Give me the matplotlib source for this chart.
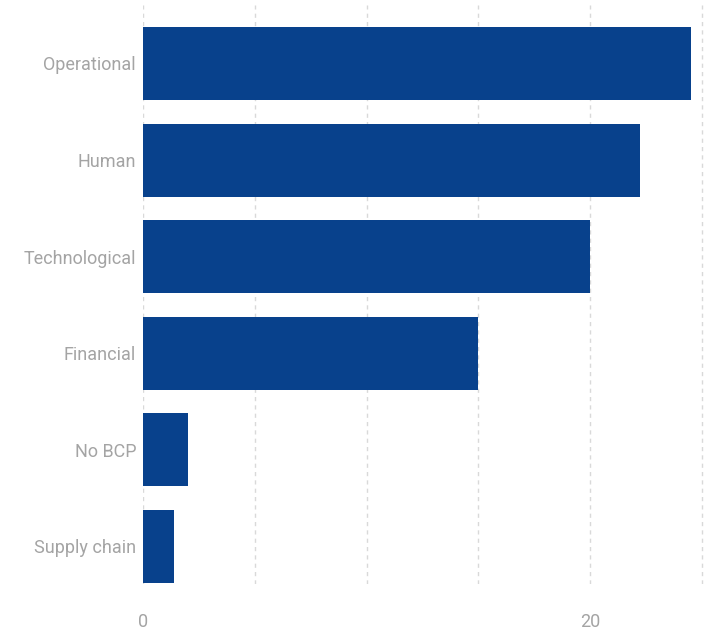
import matplotlib.pyplot as plt
import numpy as np

# Business continuity risk categories and their shares
categories = ["Operational", "Human", "Technological", "Financial", "No BCP", "Supply chain"]
values = [24.5, 22.2, 20.0, 15.0, 2.0, 1.4]
x_ticks = [0, 5, 10, 15, 20, 25]
x_tick_labels = ["0", "", "", "", "20", ""]

BAR_COLOR = "#08418c"
TEXT_COLOR = "#a4a4a4"
GRID_COLOR = "#d9d9d9"

plt.rcParams["font.family"] = ["Roboto", "DejaVu Sans"]

fig = plt.figure(figsize=(7.11, 6.32), dpi=100)
ax = fig.add_axes([143 / 711, 1 - 584 / 632, (705.5 - 143) / 711, (584 - 5) / 632])

y = np.arange(len(categories))
ax.barh(y, values, height=0.756, color=BAR_COLOR, zorder=2)

ax.set_xlim(0, 25.15)
ax.set_ylim(5.39, -0.605)

ax.set_xticks(x_ticks)
ax.set_xticklabels(x_tick_labels)
ax.set_yticks(y)
ax.set_yticklabels(categories)

ax.grid(axis="x", color=GRID_COLOR, linestyle=(0, (3, 3)), linewidth=1, zorder=0)
ax.grid(axis="y", visible=False)
for spine in ax.spines.values():
    spine.set_visible(False)

ax.tick_params(axis="both", length=0, colors=TEXT_COLOR, labelsize=13)
ax.tick_params(axis="y", pad=5)
ax.tick_params(axis="x", pad=21)

fig.savefig("out.png", dpi=100)
